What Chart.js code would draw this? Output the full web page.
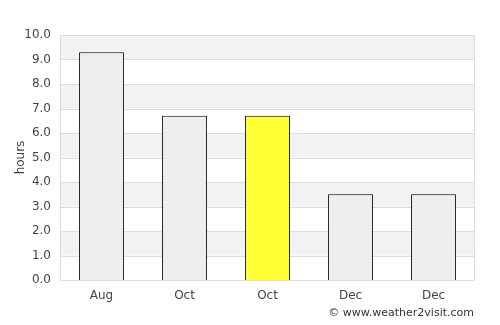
<!DOCTYPE html>
<html>
<head>
<meta charset="utf-8">
<script src="https://cdn.jsdelivr.net/npm/chart.js@4/dist/chart.umd.min.js"></script>
<style>
  body { margin: 0; background: #fff; }
  #wrap { width: 500px; height: 325px; }
</style>
</head>
<body>
<div id="wrap"><canvas id="myChart" width="500" height="325"></canvas></div>
<script>
let labels = ["Aug", "Oct", "Oct", "Dec", "Dec"];
let hours = [9.3, 6.7, 6.7, 3.5, 3.5];
let colors = ["#eeeeee", "#eeeeee", "#ffff33", "#eeeeee", "#eeeeee"];
let yTicks = [0, 1, 2, 3, 4, 5, 6, 7, 8, 9, 10];

// grey bands every other step + box border + footer
let bands = {
  id: "bands",
  beforeDatasetsDraw(chart) {
    let ctx = chart.ctx;
    let area = chart.chartArea;
    let y = chart.scales.y;
    ctx.save();
    ctx.fillStyle = "#f2f2f2";
    for (let i = 1; i < yTicks.length - 1; i += 2) {
      let top = y.getPixelForValue(yTicks[i + 1]);
      let bot = y.getPixelForValue(yTicks[i]);
      ctx.fillRect(area.left, top, area.right - area.left, bot - top);
    }
    ctx.strokeStyle = "#dddddd";
    ctx.lineWidth = 1;
    for (let i = 0; i < yTicks.length; i++) {
      let p = Math.round(y.getPixelForValue(yTicks[i])) + 0.5;
      ctx.beginPath();
      ctx.moveTo(area.left, p);
      ctx.lineTo(area.right, p);
      ctx.stroke();
    }
    ctx.beginPath();
    ctx.moveTo(Math.round(area.left) + 0.5, area.top);
    ctx.lineTo(Math.round(area.left) + 0.5, area.bottom);
    ctx.moveTo(Math.round(area.right) - 0.5, area.top);
    ctx.lineTo(Math.round(area.right) - 0.5, area.bottom);
    ctx.stroke();
    ctx.restore();
  },
  afterDraw(chart) {
    let ctx = chart.ctx;
    ctx.save();
    ctx.font = "11px 'DejaVu Sans'";
    ctx.fillStyle = "#333333";
    ctx.textAlign = "right";
    ctx.textBaseline = "middle";
    ctx.fillText("© www.weather2visit.com", 474, 313);
    ctx.restore();
  }
};

let chart = new Chart(document.getElementById("myChart").getContext("2d"), {
  type: "bar",
  data: {
    labels: labels,
    datasets: [
      {
        data: hours,
        backgroundColor: colors,
        borderColor: "#000000",
        borderWidth: 1,
        barPercentage: 0.54,
        categoryPercentage: 1,
      },
    ],
  },
  plugins: [bands],
  options: {
    responsive: false,
    animation: false,
    layout: { padding: { top: 35, right: 25, bottom: 15, left: 0 } },
    plugins: {
      legend: { display: false },
      tooltip: { enabled: false },
    },
    scales: {
      x: {
        grid: { display: false, drawTicks: false },
        border: { display: false },
        ticks: { color: "#444444", font: { family: "DejaVu Sans", size: 12 }, padding: 9 },
        afterFit(scale) { scale.height = 30; },
      },
      y: {
        min: 0,
        max: 10,
        grid: { display: false, drawTicks: false },
        border: { display: false },
        ticks: {
          stepSize: 1,
          color: "#444444",
          font: { family: "DejaVu Sans", size: 12 },
          padding: 9,
          callback: (v) => v.toFixed(1),
        },
        title: {
          display: true,
          text: "hours",
          color: "#444444",
          font: { family: "DejaVu Sans", size: 12 },
          padding: { top: 14, bottom: 0 },
        },
        afterFit(scale) { scale.width = 60; },
      },
    },
  },
});
</script>
</body>
</html>
